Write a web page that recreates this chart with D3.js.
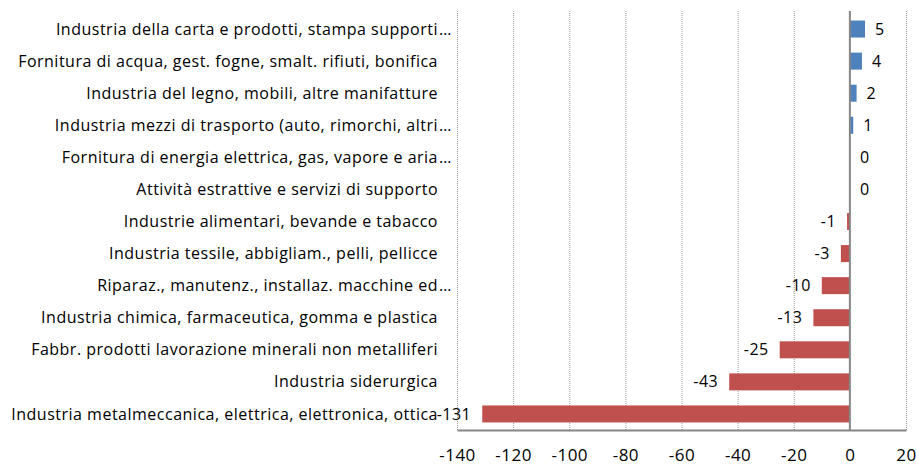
<!DOCTYPE html>
<html>
<head>
<meta charset="utf-8">
<script src="https://cdn.jsdelivr.net/npm/d3@7/dist/d3.min.js"></script>
<style>
  body { margin: 0; background: #fff; }
  text { font-family: "Open Sans", "Noto Sans", sans-serif; fill: #000; letter-spacing: 0.5px; }
</style>
</head>
<body>
<svg id="chart" width="916" height="465"></svg>
<script>
// Dati del grafico (dall'alto verso il basso)
const categories = [
  "Industria della carta e prodotti, stampa supporti…",
  "Fornitura di acqua, gest. fogne, smalt. rifiuti, bonifica",
  "Industria del legno, mobili, altre manifatture",
  "Industria mezzi di trasporto (auto, rimorchi, altri…",
  "Fornitura di energia elettrica, gas, vapore e aria…",
  "Attività estrattive e servizi di supporto",
  "Industrie alimentari, bevande e tabacco",
  "Industria tessile, abbigliam., pelli, pellicce",
  "Riparaz., manutenz., installaz. macchine ed…",
  "Industria chimica, farmaceutica, gomma e plastica",
  "Fabbr. prodotti lavorazione minerali non metalliferi",
  "Industria siderurgica",
  "Industria metalmeccanica, elettrica, elettronica, ottica"
];
const values = [5.4, 4.3, 2.4, 1.2, 0, 0, -1, -3.2, -10, -13, -25, -43, -131];
const xTicks = [-140, -120, -100, -80, -60, -40, -20, 0, 20];

const svg = d3.select("#chart");
const plot = { left: 457, right: 906, top: 11, bandTop: 13, bottom: 430 };
const fmt = (d) => String(Math.round(d)); // trattino normale come in Excel

const x = d3.scaleLinear().domain([-140, 20]).range([plot.left, plot.right]);
const y = d3.scaleBand()
  .domain(categories)
  .range([plot.bandTop, plot.bottom])
  .paddingInner(0.47)
  .paddingOuter(0.235);

// Griglia verticale tratteggiata
svg.append("g")
  .selectAll("line")
  .data(xTicks.filter((t) => t !== 0))
  .join("line")
  .attr("x1", (d) => x(d) + 0.5)
  .attr("x2", (d) => x(d) + 0.5)
  .attr("y1", plot.top)
  .attr("y2", plot.bottom)
  .attr("stroke", "#9a9a9a")
  .attr("stroke-width", 1)
  .attr("stroke-dasharray", "1,1");

// Barre
svg.append("g")
  .selectAll("rect")
  .data(values)
  .join("rect")
  .attr("x", (d) => x(Math.min(0, d)))
  .attr("width", (d) => Math.abs(x(d) - x(0)))
  .attr("y", (d, i) => y(categories[i]))
  .attr("height", y.bandwidth())
  .attr("fill", (d) => (d >= 0 ? "#4F81BD" : "#C0504D"));

// Asse x
const xAxis = svg.append("g")
  .attr("transform", `translate(0,${plot.bottom})`)
  .call(d3.axisBottom(x).tickValues(xTicks).tickFormat(fmt).tickSize(0).tickPadding(19));
xAxis.select(".domain").attr("stroke", "#868686").attr("stroke-width", 2);
xAxis.selectAll("text")
  .attr("font-size", 17)
  .style("font-family", "'Open Sans', 'Noto Sans', sans-serif");

// Linea dello zero
svg.append("line")
  .attr("x1", x(0))
  .attr("x2", x(0))
  .attr("y1", plot.top)
  .attr("y2", plot.bottom)
  .attr("stroke", "#868686")
  .attr("stroke-width", 2);

// Etichette delle categorie (i puntini di troncamento sporgono come in Excel)
const labelX = 438;
const labels = svg.append("g");
categories.forEach((c, i) => {
  const cy = y(c) + y.bandwidth() / 2;
  const cut = c.endsWith("…");
  labels.append("text")
    .attr("x", labelX)
    .attr("y", cy)
    .attr("dy", "0.35em")
    .attr("text-anchor", "end")
    .attr("font-size", 16)
    .text(cut ? c.slice(0, -1) : c);
  if (cut) {
    labels.append("text")
      .attr("x", labelX + 1)
      .attr("y", cy)
      .attr("dy", "0.35em")
      .attr("font-size", 16)
      .text("…");
  }
});

// Etichette dei valori
svg.append("g")
  .selectAll("text")
  .data(values)
  .join("text")
  .attr("x", (d) => (d >= 0 ? x(d) + 10 : x(d) - 11))
  .attr("y", (d, i) => y(categories[i]) + y.bandwidth() / 2)
  .attr("dy", "0.35em")
  .attr("text-anchor", (d) => (d >= 0 ? "start" : "end"))
  .attr("font-size", 16)
  .text(fmt);
</script>
</body>
</html>
